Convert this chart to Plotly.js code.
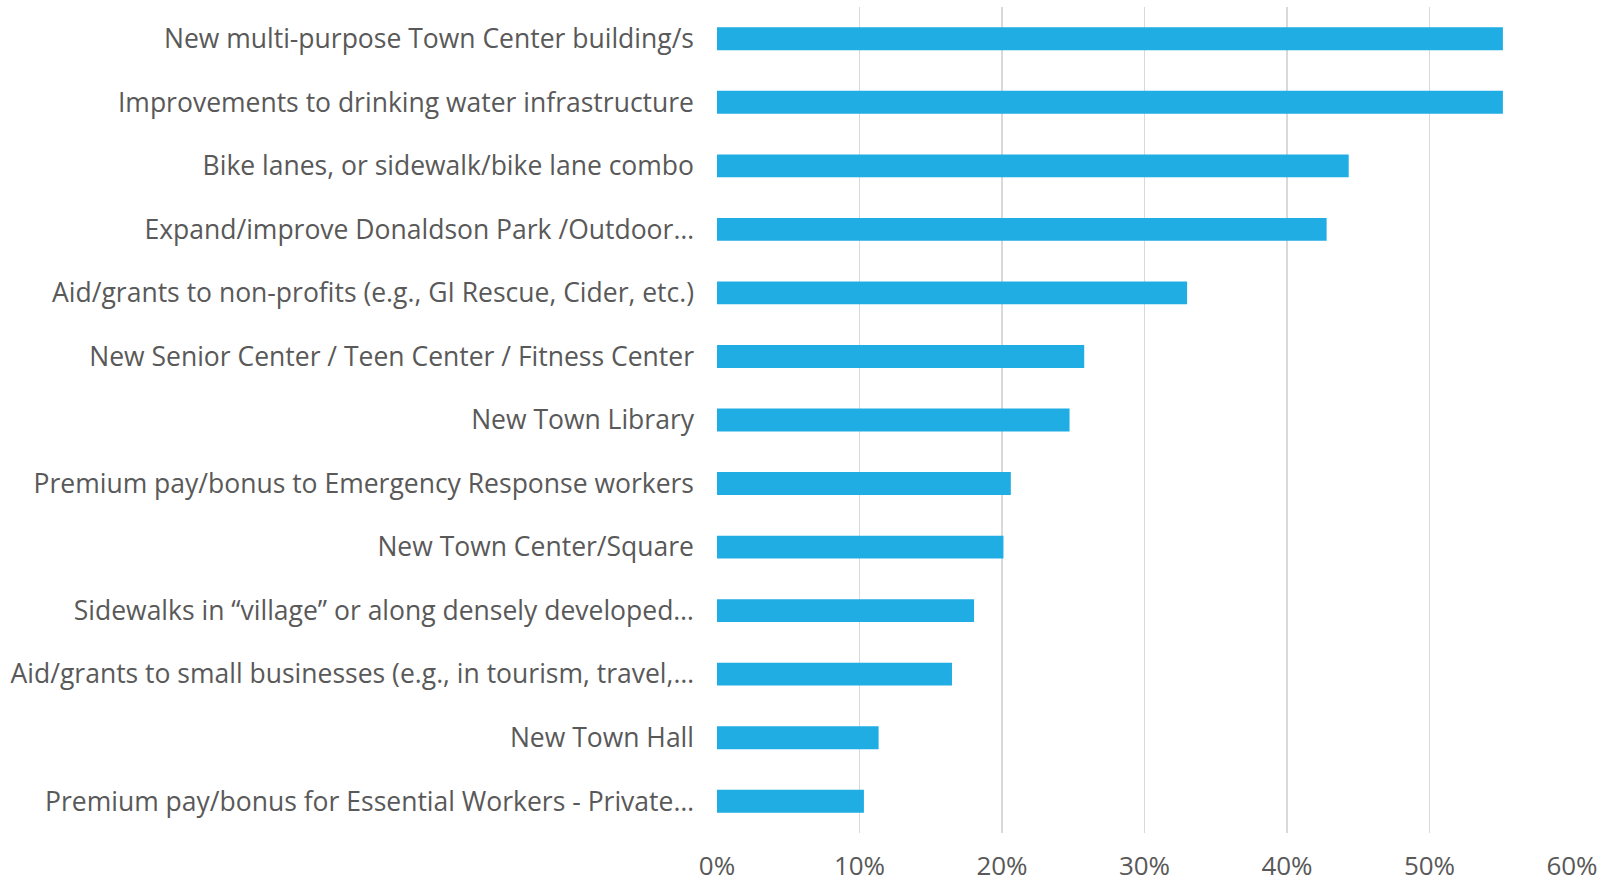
<!DOCTYPE html>
<html>
<head>
<meta charset="utf-8">
<script src="https://cdn.plot.ly/plotly-3.0.1.min.js"></script>
<style>html,body{margin:0;padding:0;background:#fff;}#chart{width:1619px;height:885px;}</style>
</head>
<body>
<div id="chart"></div>
<script>
const categories = [
  "New multi-purpose Town Center building/s",
  "Improvements to drinking water infrastructure",
  "Bike lanes, or sidewalk/bike lane combo",
  "Expand/improve Donaldson Park /Outdoor…",
  "Aid/grants to non-profits (e.g., GI Rescue, Cider, etc.)",
  "New Senior Center / Teen Center / Fitness Center",
  "New Town Library",
  "Premium pay/bonus to Emergency Response workers",
  "New Town Center/Square",
  "Sidewalks in “village” or along densely developed…",
  "Aid/grants to small businesses (e.g., in tourism, travel,…",
  "New Town Hall",
  "Premium pay/bonus for Essential Workers - Private…"
];
const values = [0.5515, 0.5515, 0.4433, 0.4278, 0.3299, 0.2577, 0.2474, 0.2062, 0.2010, 0.1804, 0.1649, 0.1134, 0.1031];
const tickVals = [0, 0.1, 0.2, 0.3, 0.4, 0.5, 0.6];
const tickLabels = ["0%", "10%", "20%", "30%", "40%", "50%", "60%"];

const fontFam = "'Open Sans', sans-serif";
const trace = {
  type: 'bar',
  orientation: 'h',
  x: values,
  y: categories,
  marker: {color: '#1FADE3'},
  hoverinfo: 'x+y'
};
const layout = {
  width: 1619, height: 885,
  margin: {l: 717, r: 47, t: 7, b: 52},
  paper_bgcolor: '#ffffff', plot_bgcolor: '#ffffff',
  bargap: 0.64,
  showlegend: false,
  font: {family: fontFam, color: '#595959', size: 25},
  xaxis: {
    range: [0, 0.6], tickvals: tickVals, ticktext: tickLabels,
    showgrid: true, gridcolor: '#d9d9d9', gridwidth: 1.5,
    zeroline: false, showline: false, ticks: '',
    tickfont: {family: fontFam, size: 26, color: '#595959'},
    ticklabelstandoff: 15
  },
  yaxis: {
    type: 'category', autorange: 'reversed',
    showgrid: false, zeroline: false, showline: false, ticks: '',
    tickfont: {family: fontFam, size: 26.5, color: '#595959'},
    ticklabelstandoff: 22
  }
};
Plotly.newPlot('chart', [trace], layout, {displayModeBar: false, staticPlot: true});
</script>
</body>
</html>
